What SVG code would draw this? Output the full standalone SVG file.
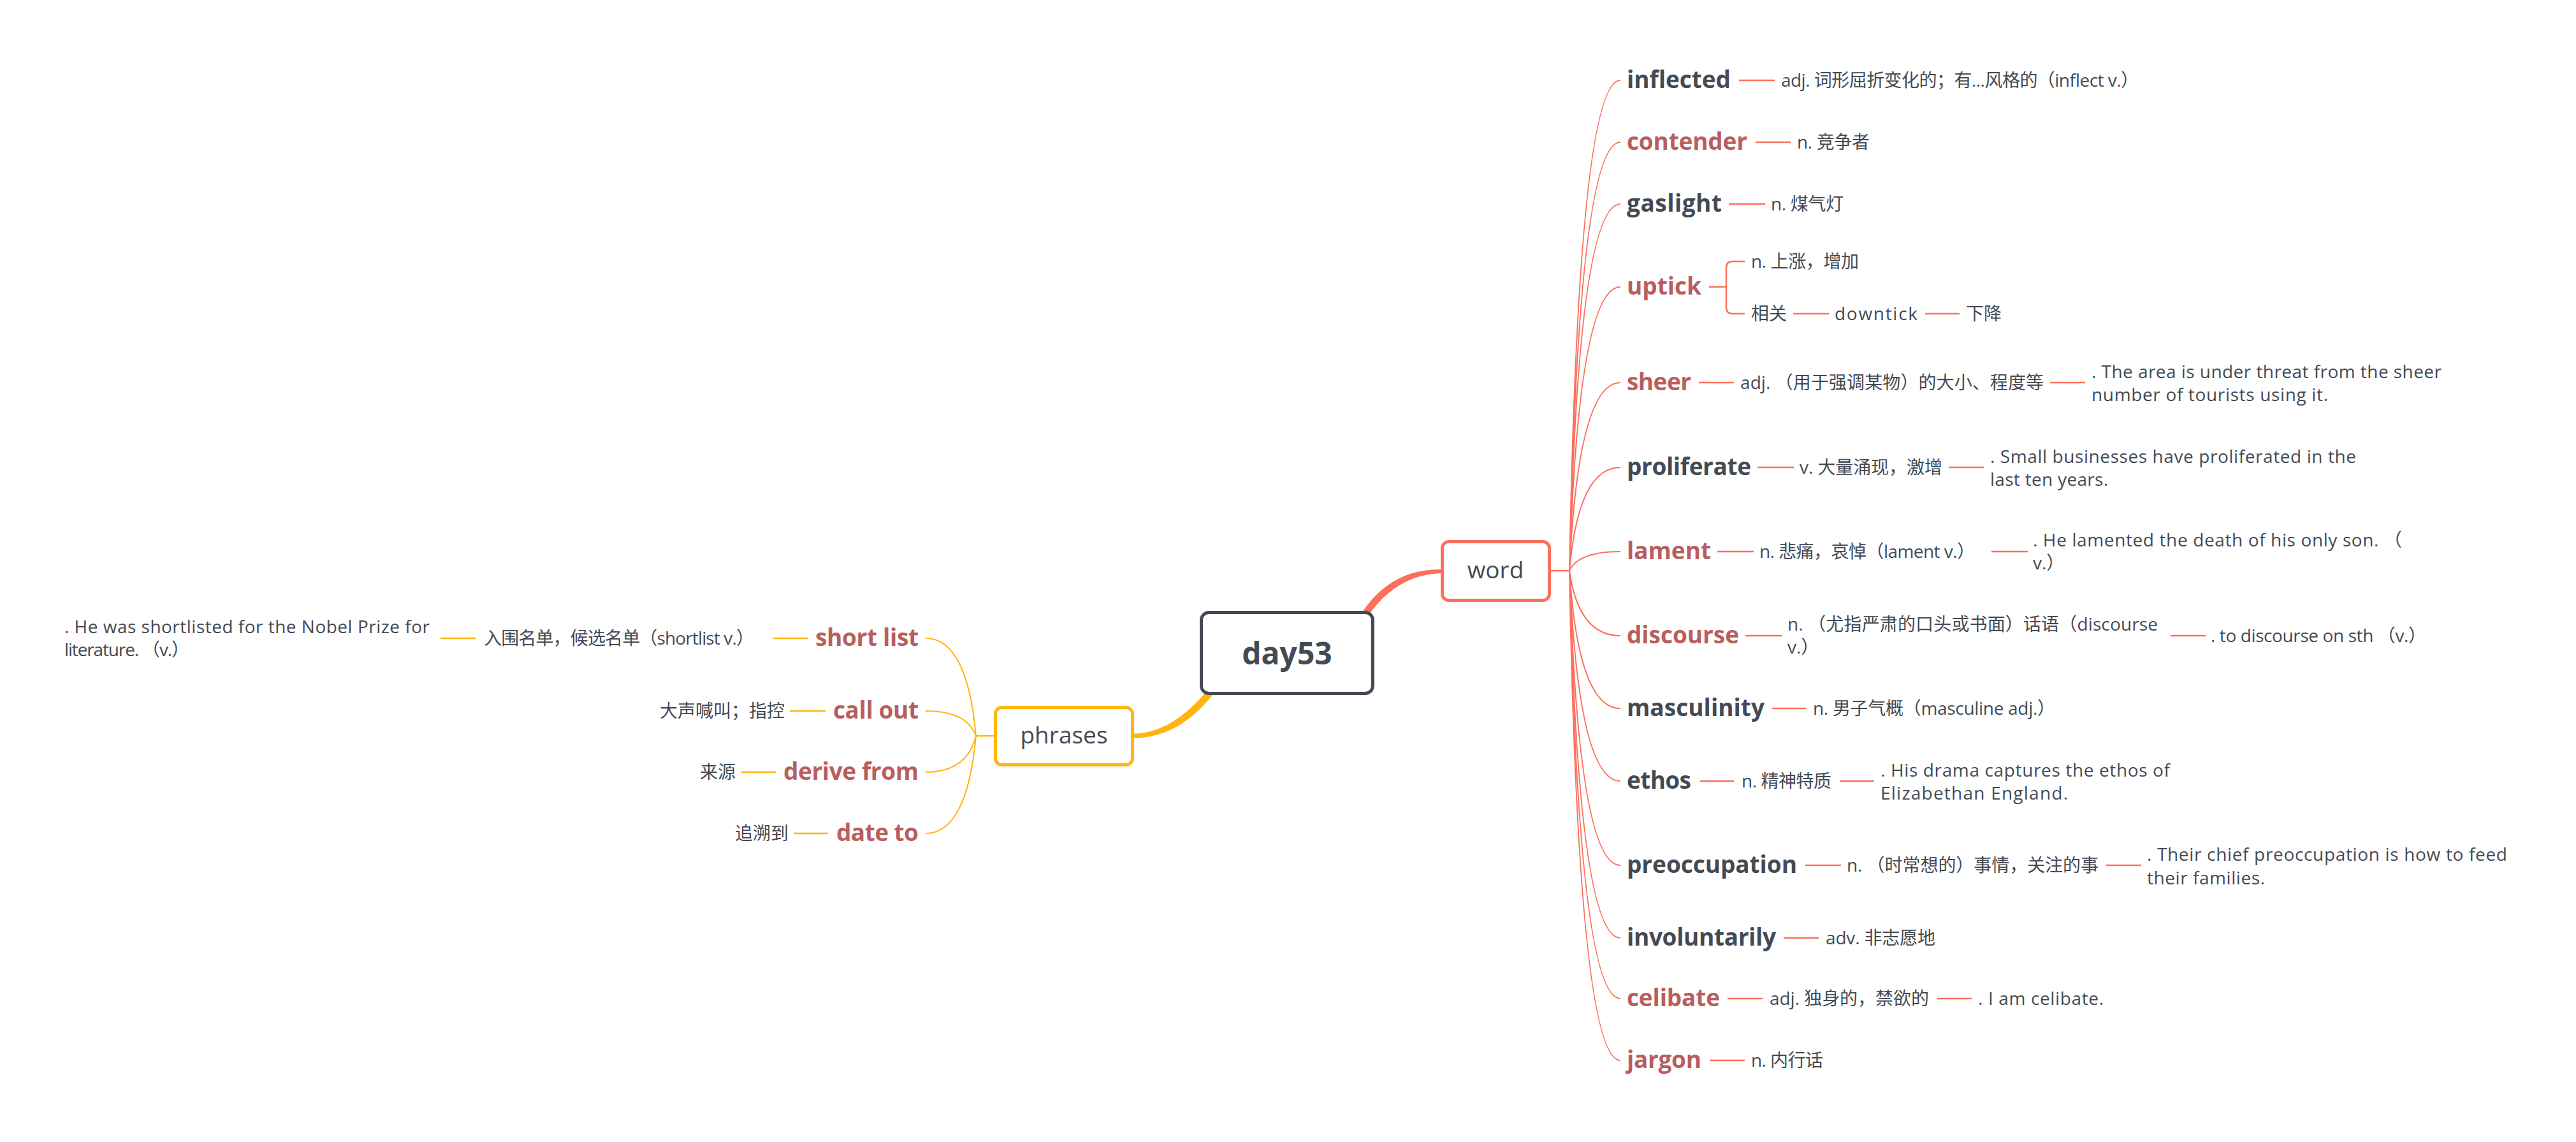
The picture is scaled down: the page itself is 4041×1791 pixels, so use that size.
<svg xmlns="http://www.w3.org/2000/svg" width="4041" height="1791" viewBox="0 0 4041 1791">
<style>
text{font-family:"Open Sans","Noto Sans CJK SC",sans-serif}
.m{font-weight:700;font-size:37px}
.dk{fill:#434a54}
.rd{fill:#b85e5e}
.s{font-size:28px;fill:#434a54}
.ln{stroke:#fd6f5d;stroke-width:2.5;fill:none}
.fan{stroke:#fd6f5d;stroke-width:2;fill:none}
.yl{stroke:#ffb40f;stroke-width:2.5;fill:none}
.yfan{stroke:#ffb40f;stroke-width:2;fill:none}
.box{fill:#fff;stroke-width:5}
</style>
<rect width="4041" height="1791" fill="#fff"/>
<g id="connectors">
<path d="M2123,979 L2140.6,954.8 Q2186,891.5 2262,893 L2262,899 Q2194,900.5 2149.4,961.2 L2131.8,985.5 Z" fill="#fd6f5d"/>
<path d="M1910.4,1063.6 L1890.8,1086.4 Q1836,1150.5 1777,1150.5 L1777,1157.5 Q1846,1158 1899.2,1093.6 L1918.8,1070.8 Z" fill="#ffb40f"/>
<path class="ln" d="M2433,895 H2462"/>
<path class="fan" d="M2462,895 Q2476,126 2542,126 M2462,895 Q2476,223 2542,223 M2462,895 Q2476,320 2542,320 M2462,895 Q2476,450 2542,450 M2462,895 Q2476,600 2542,600 M2462,895 Q2476,733 2542,733 M2462,895 Q2476,865 2542,865 M2462,895 Q2476,997 2542,997 M2462,895 Q2476,1111 2542,1111 M2462,895 Q2476,1225 2542,1225 M2462,895 Q2476,1357 2542,1357 M2462,895 Q2476,1471 2542,1471 M2462,895 Q2476,1566 2542,1566 M2462,895 Q2476,1663 2542,1663"/>
<path class="ln" d="M2728,126 H2784 M2754,223 H2809 M2712,320 H2769 M2681,450 H2708 M2737,410 H2718 Q2708,410 2708,420 V482 Q2708,492 2718,492 H2737 M2813,492 H2869 M3020,492 H3074 M2665,600 H2720 M3216,600 H3271 M2757,733 H2814 M3057,733 H3112 M2694,865 H2751 M3124,865 H3181 M2738,997 H2795 M3405,997 H3460 M2780,1111 H2833 M2667,1225 H2720 M2886,1225 H2940 M2832,1357 H2888 M3304,1357 H3359 M2798,1471 H2853 M2710,1566 H2765 M3039,1566 H3093 M2682,1663 H2737"/>
<path class="yl" d="M1559,1154 H1531"/>
<path class="yfan" d="M1531,1154 Q1517,1001 1452,1001 M1531,1154 Q1517,1115 1452,1115 M1531,1154 Q1517,1211 1452,1211 M1531,1154 Q1517,1307 1452,1307"/>
<path class="yl" d="M1213,1001 H1267 M691,1001 H746 M1239,1115 H1295 M1163,1211 H1217 M1245,1307 H1299"/>
</g>
<g id="node-day53">
<rect class="box" x="1884.5" y="960.5" width="269" height="127" rx="12" stroke="#434a54"/>
<text x="2019" y="1042" text-anchor="middle" font-size="48" font-weight="700" fill="#434a54">day53</text>
</g>
<g id="node-word">
<rect class="box" x="2262.5" y="849.5" width="168" height="92" rx="10" stroke="#fd6f5d"/>
<text x="2346" y="907" text-anchor="middle" font-size="37" fill="#434a54">word</text>
</g>
<g id="node-phrases">
<rect class="box" x="1561.5" y="1109.5" width="215" height="90" rx="10" stroke="#ffb40f"/>
<text x="1669" y="1166" text-anchor="middle" font-size="37" fill="#434a54">phrases</text>
</g>
<g id="node-inflected">
<text class="m dk" x="2552" y="138" textLength="163">inflected</text>
<text class="s" x="2794" y="136" textLength="561">adj. 词形屈折变化的；有...风格的（inflect v.）</text>
</g>
<g id="node-contender">
<text class="m rd" x="2552" y="235" textLength="189">contender</text>
<text class="s" x="2819" y="233" textLength="114">n. 竞争者</text>
</g>
<g id="node-gaslight">
<text class="m dk" x="2552" y="332" textLength="149">gaslight</text>
<text class="s" x="2778" y="330" textLength="114">n. 煤气灯</text>
</g>
<g id="node-uptick">
<text class="m rd" x="2552" y="462" textLength="117">uptick</text>
<text class="s" x="2747" y="420" textLength="169">n. 上涨，增加</text>
<text class="s" x="2747" y="502">相关</text>
<text class="s" x="2878" y="502" textLength="130">downtick</text>
<text class="s" x="3084" y="502">下降</text>
</g>
<g id="node-sheer">
<text class="m rd" x="2552" y="612" textLength="101">sheer</text>
<text class="s" x="2730" y="610" textLength="476">adj. （用于强调某物）的大小、程度等</text>
<text class="s" x="3281" y="593" textLength="549">. The area is under threat from the sheer</text>
<text class="s" x="3281" y="629" textLength="371">number of tourists using it.</text>
</g>
<g id="node-proliferate">
<text class="m dk" x="2552" y="745" textLength="195">proliferate</text>
<text class="s" x="2823" y="743" textLength="224">v. 大量涌现，激增</text>
<text class="s" x="3122" y="726" textLength="574">. Small businesses have proliferated in the</text>
<text class="s" x="3122" y="762" textLength="185">last ten years.</text>
</g>
<g id="node-lament">
<text class="m rd" x="2552" y="877" textLength="132">lament</text>
<text class="s" x="2760" y="875" textLength="338">n. 悲痛，哀悼（lament v.）</text>
<text class="s" x="3189" y="857" textLength="579">. He lamented the death of his only son. （</text>
<text class="s" x="3189" y="893">v.）</text>
</g>
<g id="node-discourse">
<text class="m rd" x="2552" y="1009" textLength="176">discourse</text>
<text class="s" x="2804" y="989" textLength="581">n. （尤指严肃的口头或书面）话语（discourse</text>
<text class="s" x="2804" y="1025">v.）</text>
<text class="s" x="3468" y="1007" textLength="338">. to discourse on sth （v.）</text>
</g>
<g id="node-masculinity">
<text class="m dk" x="2552" y="1123" textLength="216">masculinity</text>
<text class="s" x="2844" y="1121" textLength="380">n. 男子气概（masculine adj.）</text>
</g>
<g id="node-ethos">
<text class="m dk" x="2552" y="1237" textLength="101">ethos</text>
<text class="s" x="2732" y="1235" textLength="141">n. 精神特质</text>
<text class="s" x="2950" y="1218" textLength="454">. His drama captures the ethos of</text>
<text class="s" x="2950" y="1254" textLength="294">Elizabethan England.</text>
</g>
<g id="node-preoccupation">
<text class="m dk" x="2552" y="1369" textLength="267">preoccupation</text>
<text class="s" x="2897" y="1367" textLength="395">n. （时常想的）事情，关注的事</text>
<text class="s" x="3368" y="1350" textLength="565">. Their chief preoccupation is how to feed</text>
<text class="s" x="3368" y="1387" textLength="185">their families.</text>
</g>
<g id="node-involuntarily">
<text class="m dk" x="2552" y="1483" textLength="234">involuntarily</text>
<text class="s" x="2864" y="1481" textLength="172">adv. 非志愿地</text>
</g>
<g id="node-celibate">
<text class="m rd" x="2552" y="1578" textLength="146">celibate</text>
<text class="s" x="2776" y="1576" textLength="250">adj. 独身的，禁欲的</text>
<text class="s" x="3103" y="1576" textLength="197">. I am celibate.</text>
</g>
<g id="node-jargon">
<text class="m rd" x="2552" y="1675" textLength="117">jargon</text>
<text class="s" x="2747" y="1673" textLength="113">n. 内行话</text>
</g>
<g id="node-shortlist">
<text class="m rd" x="1279" y="1013" textLength="162">short list</text>
<text class="s" x="759" y="1011" textLength="424">入围名单，候选名单（shortlist v.）</text>
<text class="s" x="101" y="993" textLength="573">. He was shortlisted for the Nobel Prize for</text>
<text class="s" x="101" y="1029" textLength="196">literature. （v.）</text>
</g>
<g id="node-callout">
<text class="m rd" x="1307" y="1127" textLength="134">call out</text>
<text class="s" x="1035" y="1125">大声喊叫；指控</text>
</g>
<g id="node-derivefrom">
<text class="m rd" x="1229" y="1223" textLength="212">derive from</text>
<text class="s" x="1098" y="1221">来源</text>
</g>
<g id="node-dateto">
<text class="m rd" x="1312" y="1319" textLength="129">date to</text>
<text class="s" x="1153" y="1317">追溯到</text>
</g>
</svg>
